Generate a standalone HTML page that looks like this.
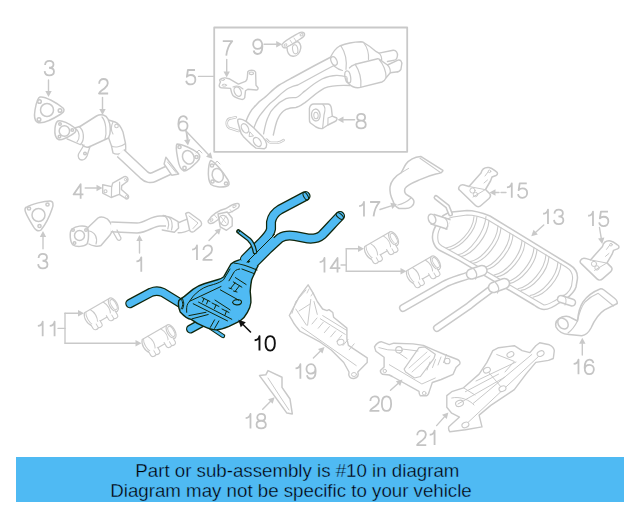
<!DOCTYPE html>
<html><head><meta charset="utf-8"><style>
html,body{margin:0;padding:0;background:#fff;width:640px;height:512px;overflow:hidden}
#banner{position:absolute;left:16px;top:457px;width:608px;height:45px;background:#4fbaf3}
.bt{position:absolute;font-family:"Liberation Sans",sans-serif;font-size:18.7px;color:#000;white-space:pre;line-height:20px;-webkit-text-stroke:0.35px #4fbaf3}
svg{position:absolute;left:0;top:0;filter:blur(0.3px)}
</style></head><body>
<svg width="640" height="512" viewBox="0 0 640 512" stroke-linecap="round" stroke-linejoin="round">
<rect x="214.2" y="27.5" width="193" height="124.3" fill="none" stroke="#c9c9c9" stroke-width="1.8"/>
<path d="M198.5,76.4 L214,76.4" fill="none" stroke="#c9c9c9" stroke-width="1.4" />
<path d="M40,97 C45,96 57,103 63,108 C65,110 64,112 61,114 C53,119 42,125 37,122 C34,120 34,116 35,110 C36,104 37,98 40,97 Z" fill="none" stroke="#c9c9c9" stroke-width="1.5" />
<circle cx="47" cy="110" r="6.5" fill="none" stroke="#c9c9c9" stroke-width="1.5"/>
<circle cx="39.5" cy="101.5" r="1.8" fill="none" stroke="#c9c9c9" stroke-width="1.5"/>
<circle cx="60" cy="110.5" r="1.8" fill="none" stroke="#c9c9c9" stroke-width="1.5"/>
<circle cx="39" cy="119.5" r="1.8" fill="none" stroke="#c9c9c9" stroke-width="1.5"/>
<path d="M48.5,80 L48.5,91.0" stroke="#c9c9c9" stroke-width="1.4" fill="none"/>
<path d="M48.5,97 L45.3,91.0 L51.7,91.0 Z" fill="#c9c9c9" stroke="none"/>
<path d="M58,121 C61,119.5 70,124 75,128 C77,130 76,132 73,134 C68,137 62,141 58.5,139.5 C55,138 54.5,133 55,128 C55.5,124 56,122 58,121 Z" fill="none" stroke="#c9c9c9" stroke-width="1.5" />
<circle cx="64.4" cy="131" r="5.2" fill="none" stroke="#c9c9c9" stroke-width="1.5"/>
<circle cx="60" cy="124" r="1.3" fill="none" stroke="#c9c9c9" stroke-width="1.5"/>
<circle cx="72.3" cy="130" r="1.3" fill="none" stroke="#c9c9c9" stroke-width="1.5"/>
<circle cx="59.5" cy="136.6" r="1.3" fill="none" stroke="#c9c9c9" stroke-width="1.5"/>
<path d="M74.5,128 L80,126.5 M67,138.8 L80,144.5" fill="none" stroke="#c9c9c9" stroke-width="1.3" />
<path d="M79,126.5 C84,130 85,140 80.5,144.5" fill="none" stroke="#c9c9c9" stroke-width="1.3" />
<path d="M76,129 C80,132 80,139 77,142" fill="none" stroke="#c9c9c9" stroke-width="1.1" />
<path d="M80,126.5 L96.5,116 C101,113.5 106,115 108,119 C111,125 111,133 108.5,138 L90,146.5 C87,148 84,147 82,144.5" fill="none" stroke="#c9c9c9" stroke-width="1.5" />
<path d="M102,117 C106,121 107,133 105,139" fill="none" stroke="#c9c9c9" stroke-width="1.2" />
<path d="M84,145 L78.5,154 C77.5,157 79,160 82,160 C85,160 86,158 87,156 L90,146.5" fill="none" stroke="#c9c9c9" stroke-width="1.3" />
<circle cx="85" cy="153.5" r="1.3" fill="none" stroke="#c9c9c9" stroke-width="1.5"/>
<path d="M108.5,120 L115,122 C118,123 121,127 123,132 L125.5,143.5 C126,149 126,151 125,152 C122,154 116,155 113,153 L111.5,146 L108.5,137.5" fill="none" stroke="#c9c9c9" stroke-width="1.4" />
<path d="M113,122 C111,126 111,131 113,134" fill="none" stroke="#c9c9c9" stroke-width="1.1" />
<circle cx="116.5" cy="126" r="1.8" fill="none" stroke="#c9c9c9" stroke-width="1.1"/>
<path d="M111.5,146 C115,148 121,147 125.5,143.5" fill="none" stroke="#c9c9c9" stroke-width="1.1" />
<path d="M120.5,153 L144,175 C147,178 151,178.5 154,177 L169,170" fill="none" stroke="#c9c9c9" stroke-width="11.0" stroke-linecap="butt" stroke-linejoin="round"/>
<path d="M120.5,153 L144,175 C147,178 151,178.5 154,177 L169,170" fill="none" stroke="#fff" stroke-width="8.0" stroke-linecap="butt" stroke-linejoin="round"/>
<path d="M165.9,157.3 L178.7,174 L171.7,175.2 L164.1,164 Z" fill="#fff" stroke="#c9c9c9" stroke-width="1.4" />
<path d="M167.5,162 L176,172.5" fill="none" stroke="#c9c9c9" stroke-width="1" />
<path d="M102.5,97.5 L102.5,109.0" stroke="#c9c9c9" stroke-width="1.4" fill="none"/>
<path d="M102.5,115 L99.3,109.0 L105.7,109.0 Z" fill="#c9c9c9" stroke="none"/>
<path d="M177,144 C182,144 193,149 198,153 C201,156 200,159 197,162 C193,166 188,171 184,171 C181,170 179,166 178,160 C177,154 175,146 177,144 Z" fill="none" stroke="#c9c9c9" stroke-width="1.5" />
<ellipse cx="188.3" cy="157.3" rx="5.6" ry="7" transform="rotate(-25 188.3 157.3)" fill="none" stroke="#c9c9c9" stroke-width="1.5"/>
<circle cx="179.5" cy="147" r="1.6" fill="none" stroke="#c9c9c9" stroke-width="1.5"/>
<circle cx="196.5" cy="157" r="1.6" fill="none" stroke="#c9c9c9" stroke-width="1.5"/>
<circle cx="184.5" cy="168" r="1.7" fill="none" stroke="#c9c9c9" stroke-width="1.5"/>
<path d="M196,153 L199,150 L202,153" fill="none" stroke="#c9c9c9" stroke-width="1" />
<path d="M211,160.5 C215,162 223,172 228,180 C230,183.5 229.5,186 226,186.5 C221,187.5 214,187 211,184.5 C209,182 208,176 208.5,169 C209,164 209.5,161 211,160.5 Z" fill="none" stroke="#c9c9c9" stroke-width="1.5" />
<ellipse cx="217.8" cy="175.3" rx="5.4" ry="7" transform="rotate(-20 217.8 175.3)" fill="none" stroke="#c9c9c9" stroke-width="1.5"/>
<circle cx="212" cy="165.5" r="1.6" fill="none" stroke="#c9c9c9" stroke-width="1.5"/>
<circle cx="226" cy="183.5" r="1.6" fill="none" stroke="#c9c9c9" stroke-width="1.5"/>
<circle cx="212.5" cy="181.5" r="1.6" fill="none" stroke="#c9c9c9" stroke-width="1.5"/>
<path d="M214,165 L217,161 L220,164" fill="none" stroke="#c9c9c9" stroke-width="1" />
<path d="M186.2,131.2 L188,139" fill="none" stroke="#c9c9c9" stroke-width="1.4" />
<path d="M186.2,131.2 L187.2506682320272,139.54697539888278" stroke="#c9c9c9" stroke-width="1.4" fill="none"/>
<path d="M188,145.5 L184.07572177809803,139.94661900846828 L190.4256146859564,139.14733178929728 Z" fill="#c9c9c9" stroke="none"/>
<path d="M186.2,131.2 L208.36089016685017,154.456295384223" stroke="#c9c9c9" stroke-width="1.4" fill="none"/>
<path d="M212.5,158.8 L206.04424770510244,156.6638206285696 L210.6775326285979,152.24877013987643 Z" fill="#c9c9c9" stroke="none"/>
<path d="M102.7,184.7 L111.75,186.6 L112.7,183.1 L124.25,176.6 C126,176 128,177.5 128,179.4 C128,180.5 127.5,181.5 126.5,182 L121.75,185.6 L121.4,189.4 L128.3,195.6 C129,197 128.5,199 126.8,199 C126,199 125.5,198.5 125,198 L119.25,194.4 L111.1,197.5 L102.7,193.1 Z" fill="none" stroke="#c9c9c9" stroke-width="1.4" />
<path d="M111.6,187 L111.4,197 M119.6,182.2 L119.6,194.4" fill="none" stroke="#c9c9c9" stroke-width="1.2" />
<circle cx="105.5" cy="191.3" r="1.5" fill="none" stroke="#c9c9c9" stroke-width="1.1"/>
<circle cx="125.6" cy="179.6" r="1.2" fill="none" stroke="#c9c9c9" stroke-width="1"/>
<circle cx="126.6" cy="196.6" r="1.2" fill="none" stroke="#c9c9c9" stroke-width="1"/>
<path d="M85.2,188 L96.5,188.0" stroke="#c9c9c9" stroke-width="1.4" fill="none"/>
<path d="M102.5,188 L96.5,191.2 L96.5,184.8 Z" fill="#c9c9c9" stroke="none"/>
<path d="M27,207 C32,204 44,201 50,201 C53,201 54,204 52,209 C50,215 45,225 41,230 C38,232 35,230 33,226 C30,221 25,213 25,210 C25,208 26,207 27,207 Z" fill="none" stroke="#c9c9c9" stroke-width="1.5" />
<circle cx="38.5" cy="215" r="6.5" fill="none" stroke="#c9c9c9" stroke-width="1.5"/>
<circle cx="29" cy="208.5" r="1.6" fill="none" stroke="#c9c9c9" stroke-width="1.5"/>
<circle cx="47.5" cy="204.5" r="1.6" fill="none" stroke="#c9c9c9" stroke-width="1.5"/>
<circle cx="39.5" cy="226" r="1.6" fill="none" stroke="#c9c9c9" stroke-width="1.5"/>
<path d="M43,248.7 L43.0,237.0" stroke="#c9c9c9" stroke-width="1.4" fill="none"/>
<path d="M43,231 L46.2,237.0 L39.8,237.0 Z" fill="#c9c9c9" stroke="none"/>
<path d="M72,229 C76,226 83,225 87,227 C89,229 89,240 87,244 C84,247 76,247 73,245 C70,242 69,232 72,229 Z" fill="none" stroke="#c9c9c9" stroke-width="1.5" />
<circle cx="79.5" cy="235.5" r="5" fill="none" stroke="#c9c9c9" stroke-width="1.5"/>
<circle cx="74.5" cy="243" r="1.3" fill="none" stroke="#c9c9c9" stroke-width="1.5"/>
<circle cx="86" cy="230" r="1.3" fill="none" stroke="#c9c9c9" stroke-width="1.5"/>
<circle cx="73" cy="230" r="1.3" fill="none" stroke="#c9c9c9" stroke-width="1.5"/>
<path d="M88,227.5 L98,218 C101,216 107,217 110,222 C113,226 113,231 110,235 L101,245.5 C98,247 92,246 89,244" fill="none" stroke="#c9c9c9" stroke-width="1.5" />
<path d="M89,231 C95,232 98,238 96,244" fill="none" stroke="#c9c9c9" stroke-width="1.2" />
<path d="M111,226.8 L137,228 C146,228 152,221 160,221 L166,221" fill="none" stroke="#c9c9c9" stroke-width="11.3" stroke-linecap="butt" stroke-linejoin="round"/>
<path d="M111,226.8 L137,228 C146,228 152,221 160,221 L166,221" fill="none" stroke="#fff" stroke-width="8.3" stroke-linecap="butt" stroke-linejoin="round"/>
<path d="M112.5,231 L117,239 C118,241 121,241 121,238 L117,230" fill="none" stroke="#c9c9c9" stroke-width="1.3" />
<path d="M164,215.5 C168,218 170,224 167.8,229 M168.7,216.9 C172,219 173,226 171.5,230" fill="none" stroke="#c9c9c9" stroke-width="1.2" />
<path d="M163,215.5 L171.6,217.8 L178.1,221.6 L178.6,228.1 L174.4,232.3 L162.2,230" fill="none" stroke="#c9c9c9" stroke-width="1.4" />
<path d="M179,222.5 C182,221 185,220 187.5,218.8 M178.1,232.8 C182,233 186,232 191.2,229" fill="none" stroke="#c9c9c9" stroke-width="1.4" />
<path d="M185.6,213.6 C187,212.5 188.5,212.3 189.4,212.7 L200,220.5 C202,222.5 202,225 200.6,226 L194,231.5 C192.5,232.5 191,232 190,231 C188.5,227 188,220 185.6,213.6 Z" fill="#fff" stroke="#c9c9c9" stroke-width="1.4" />
<path d="M189,216 L198,223 L193,228.5" fill="none" stroke="#c9c9c9" stroke-width="1" />
<path d="M139.5,253 L139.5,241.0" stroke="#c9c9c9" stroke-width="1.4" fill="none"/>
<path d="M139.5,235 L142.7,241.0 L136.3,241.0 Z" fill="#c9c9c9" stroke="none"/>
<path d="M208,221 C211,215 219,210 226,208.5 C230,206 234,203 238,203.5 C240,204 239.5,206.5 238,208 C234,211 229,213 226,214 L214,222.5 C211,224 208,224 208,221 Z" fill="none" stroke="#c9c9c9" stroke-width="1.4" />
<path d="M218,214 L227.2,212 L232.2,218.3 L232.2,226 L226.5,230.3 L220.2,226.8 Z" fill="#fff" stroke="#c9c9c9" stroke-width="1.4" />
<ellipse cx="223.8" cy="220.5" rx="4.2" ry="5.5" transform="rotate(-30 223.8 220.5)" fill="none" stroke="#c9c9c9" stroke-width="1.2"/>
<path d="M221,217 L226,223 M226,216 L221,224" fill="none" stroke="#c9c9c9" stroke-width="0.9" />
<ellipse cx="211.5" cy="220" rx="1.6" ry="1" transform="rotate(-35 211.5 220)" fill="none" stroke="#c9c9c9" stroke-width="1"/>
<ellipse cx="234.5" cy="206.3" rx="1.8" ry="1" transform="rotate(-30 234.5 206.3)" fill="none" stroke="#c9c9c9" stroke-width="1"/>
<path d="M214,214.5 L217,218 M230,209.5 L232,212" fill="none" stroke="#c9c9c9" stroke-width="0.9" />
<path d="M209,240.5 L216.79256614329867,232.57755775431303" stroke="#c9c9c9" stroke-width="1.4" fill="none"/>
<path d="M221,228.3 L219.07393027893227,234.82152247788707 L214.51120200766508,230.333593030739 Z" fill="#c9c9c9" stroke="none"/>
<path d="M220,79.5 C221.5,78 223.5,77.8 225.2,77.9 L229,78.7 L238.4,84.1 L245.5,81.4 C247,80 247.4,78.5 247.4,76.7 L247.8,71.6 C248.5,70.6 250,70.3 251.7,70.3 C253.5,70.3 255,71 255.6,72 L256,85.3 L258,87.7 C258.3,89 257.5,90 256.4,90 L247.8,89.2 L245.5,90.8 L244.7,97.8 C244,99.3 243,99.6 241.6,99.4 C238,98.5 235,97.5 233,95.5 C231.5,93.5 231,90.5 230.6,88.4 L221.25,87.7 C219.5,87.5 219,86 219.3,84.9 C219.6,83.5 220.5,82.5 220.5,81.8 C219.8,81 219.5,80.2 220,79.5 Z" fill="none" stroke="#c9c9c9" stroke-width="1.4" />
<ellipse cx="237.7" cy="91.6" rx="3.3" ry="5" transform="rotate(-25 237.7 91.6)" fill="none" stroke="#c9c9c9" stroke-width="1.3"/>
<ellipse cx="251.4" cy="73.3" rx="2.2" ry="1.3" transform="rotate(0 251.4 73.3)" fill="none" stroke="#c9c9c9" stroke-width="1.1"/>
<ellipse cx="222.8" cy="79.6" rx="1.8" ry="0.9" transform="rotate(0 222.8 79.6)" fill="none" stroke="#c9c9c9" stroke-width="1"/>
<ellipse cx="224.3" cy="85.2" rx="2.3" ry="1" transform="rotate(0 224.3 85.2)" fill="none" stroke="#c9c9c9" stroke-width="1"/>
<path d="M233,87 C236,85.5 240,86 243,89" fill="none" stroke="#c9c9c9" stroke-width="1.1" />
<path d="M226.7,59.5 L226.7,71.5" stroke="#c9c9c9" stroke-width="1.4" fill="none"/>
<path d="M226.7,77.5 L223.5,71.5 L229.89999999999998,71.5 Z" fill="#c9c9c9" stroke="none"/>
<path d="M282,44.5 C284,41 292,37 299,33 C302,31.5 305,32 304.5,35 C304,37.5 300,39 297,41 L287,47.5 C284,48.5 281.5,47 282,44.5 Z" fill="none" stroke="#c9c9c9" stroke-width="1.4" />
<path d="M287,47 C287,52 289,56 293,56.3 C297,56.5 300,53 300.8,48 C301,45 299.5,42 297.5,41.5 Z" fill="#fff" stroke="#c9c9c9" stroke-width="1.4" />
<ellipse cx="295.2" cy="49.3" rx="2.6" ry="4.6" transform="rotate(-10 295.2 49.3)" fill="none" stroke="#c9c9c9" stroke-width="1.1"/>
<ellipse cx="285.5" cy="45" rx="1.5" ry="1" transform="rotate(-30 285.5 45)" fill="none" stroke="#c9c9c9" stroke-width="1"/>
<ellipse cx="301.5" cy="34.8" rx="1.5" ry="1" transform="rotate(-30 301.5 34.8)" fill="none" stroke="#c9c9c9" stroke-width="1"/>
<path d="M290,40 L292,43 M294,38 L296,41" fill="none" stroke="#c9c9c9" stroke-width="0.9" />
<path d="M264,44.3 L276.2,44.3" stroke="#c9c9c9" stroke-width="1.4" fill="none"/>
<path d="M282.2,44.3 L276.2,47.5 L276.2,41.099999999999994 Z" fill="#c9c9c9" stroke="none"/>
<path d="M246,121.2 C248,116 250,111 253.8,107.5 C257,103.5 260,100.5 264.5,97.7 C269,94 273,89 279.2,85 C284,82 288,80 292.7,77.5 L313.8,66 L330,57.5" fill="none" stroke="#c9c9c9" stroke-width="1.5" />
<path d="M253.8,128 C256,122 258,117 261.6,113.3 C265,109 268,105 272.4,101.6 C278,97 283,91 289,88 C292,86.5 295,85.5 297.8,85 L324.4,70.5 L334,65.5" fill="none" stroke="#c9c9c9" stroke-width="1.3" />
<path d="M263.6,133.9 C265,126 266,121 268.5,116.3 C270,112.5 272,109.5 274.3,107.5 C278,103.5 282,100.5 286,98.7 C289,97.5 292.5,97.5 295.8,97.7 C299,97 302,93 305,90.9 C311,86 316,82 322,79 C330,75 338,74 347,77" fill="none" stroke="#c9c9c9" stroke-width="1.3" />
<path d="M273.3,135 C275,128 276,122 278.2,118.2 C280,114 283,111 286,109.4 C289,108 292,107.5 295.8,107.5 C299,107 302,104.5 305,102.6 C311,98 317,92 324.4,88.1 C332,85 340,85 350,85.5" fill="none" stroke="#c9c9c9" stroke-width="1.4" />
<path d="M238,119.4 C240,118.5 243,119.5 246.4,121.6 L253.9,128 L262.4,136.4 C264.5,139 266,141.5 266.6,143.9 C266.8,146 266,148 264.5,148.7 L256,148.1 C253,146 250.5,144 248.6,141.8 L243.25,136.4 C241.5,134.5 240.5,132.5 240,130 L238,122.6 C237.6,121 237.6,120 238,119.4 Z" fill="#fff" stroke="#c9c9c9" stroke-width="1.4" />
<ellipse cx="245" cy="128.3" rx="3.2" ry="5" transform="rotate(-30 245 128.3)" fill="none" stroke="#c9c9c9" stroke-width="1.3"/>
<ellipse cx="257.3" cy="142" rx="3.3" ry="5" transform="rotate(-35 257.3 142)" fill="none" stroke="#c9c9c9" stroke-width="1.3"/>
<path d="M250,132 L253.5,136 L249.5,136.5 Z" fill="none" stroke="#c9c9c9" stroke-width="1" />
<path d="M238.5,131 L229.4,128 C227.5,127 226.5,124.5 226.8,122 C227.5,119.5 229,118.5 230.5,118.4 L235.8,117.3" fill="none" stroke="#c9c9c9" stroke-width="2.6" />
<path d="M238.5,131 L229.4,128 C227.5,127 226.5,124.5 226.8,122 C227.5,119.5 229,118.5 230.5,118.4 L235.8,117.3" fill="none" stroke="#fff" stroke-width="1" />
<path d="M266.6,139.6 C268,141.5 269.5,142.8 271,142.8 L277.3,142.8 C279.5,142.5 281.5,141.5 283.6,140.2" fill="none" stroke="#c9c9c9" stroke-width="2.6" />
<path d="M266.6,139.6 C268,141.5 269.5,142.8 271,142.8 L277.3,142.8 C279.5,142.5 281.5,141.5 283.6,140.2" fill="none" stroke="#fff" stroke-width="1" />
<path d="M330.5,57.3 C333,52 336,48 339.7,46 C346,43.5 353,42 360.8,41.8 C362,41.8 363,42 363.6,42.5 C368,45 372,48 376.3,51.7 L379,53.1 L393.1,50.3 C396,50 398,53 397.4,56 C397,58.5 396,60 394.5,60.1 L387.5,61.5" fill="none" stroke="#c9c9c9" stroke-width="1.4" />
<ellipse cx="334" cy="61" rx="2.8" ry="4.6" transform="rotate(-25 334 61)" fill="none" stroke="#c9c9c9" stroke-width="1.3"/>
<path d="M341,46 C345,52 347,61 346,69.3 M363.6,42.5 C367,47 369,53 368.5,59.4 M379,53.1 C381,55 382,58 381.5,61" fill="none" stroke="#c9c9c9" stroke-width="1.2" />
<path d="M334,66 C337,68.5 339.5,70 342.5,70.5" fill="none" stroke="#c9c9c9" stroke-width="1.2" />
<path d="M349.5,67.9 C351,66 353,65 355.2,64.3 L377.7,58.7 C378.7,58.5 379.7,59.3 380.5,60.1 L387.5,65 L398,60.1 C400.5,59.5 402.5,62 401.6,65 L400.9,69.3 C400,71 398,72 396,72 L390.3,72.8 L386.1,77.7 C385,80 383.5,81.5 381.9,82 L359.4,87.6 C356,88 352,87 349,84 C347,82 346.5,80 347,78" fill="#fff" stroke="#c9c9c9" stroke-width="1.4" />
<ellipse cx="347.8" cy="77" rx="2.8" ry="6.2" transform="rotate(-10 347.8 77)" fill="none" stroke="#c9c9c9" stroke-width="1.3"/>
<path d="M355.2,64.3 C359,70 361.5,79 360.8,86.9 M379,59.4 C383,64 386,70 386.1,77.7 M387.5,65 C389.5,67 390.5,70 390.3,72.8" fill="none" stroke="#c9c9c9" stroke-width="1.2" />
<path d="M309.4,108.3 C310,105.5 311.5,104 313.8,104 L327.9,104 C329.5,104 331,106 331.4,108.3 L332.3,116.2 L336.7,118 C337.5,119 336.5,120.8 335,121.5 L327.9,125 L322.6,128.5 C320,129 318,128 316,127 L310.5,123 C309.5,122 309.2,121 309.4,119 Z" fill="none" stroke="#c9c9c9" stroke-width="1.4" />
<path d="M322.8,104.5 C325,106 325.5,110 324,115 L322.6,128.5" fill="none" stroke="#c9c9c9" stroke-width="1.2" />
<ellipse cx="315.8" cy="115" rx="4.3" ry="6" transform="rotate(-5 315.8 115)" fill="none" stroke="#c9c9c9" stroke-width="1.3"/>
<ellipse cx="316" cy="115.5" rx="2.2" ry="3.3" transform="rotate(-5 316 115.5)" fill="none" stroke="#c9c9c9" stroke-width="1"/>
<path d="M332.3,116.2 L328,118 L327.9,125" fill="none" stroke="#c9c9c9" stroke-width="1.1" />
<path d="M354.6,119.8 L343.5,119.8" stroke="#c9c9c9" stroke-width="1.4" fill="none"/>
<path d="M337.5,119.8 L343.5,116.6 L343.5,123.0 Z" fill="#c9c9c9" stroke="none"/>
<path d="M420.7,156.4 L442.9,170.3 C443,172 440,173.5 435.9,174.1 C428,176 423,178.5 418,180.5 C412,183 407,185 405,188.5 C404,191.5 405,194 408,195.5 C411,197 414,199 414,202 C414,206 410,208.5 405.4,208.5 L399,208.5 C396,207 394,205 393,201 C391,197 389.5,192 390,187 C390.5,182 395,176 401,172.9 C403,170 404,167 406,164 C409,160 414,157 420.7,156.4 Z" fill="none" stroke="#c9c9c9" stroke-width="1.5" />
<path d="M420,158.3 L441,172.9" fill="none" stroke="#c9c9c9" stroke-width="1.1" />
<path d="M397.8,205 C402,204 408,201 411,198" fill="none" stroke="#c9c9c9" stroke-width="1.1" />
<path d="M401,172.9 L408.6,168.4" fill="none" stroke="#c9c9c9" stroke-width="1" />
<path d="M380,209.5 L391.29133288867354,205.84692171248798" stroke="#c9c9c9" stroke-width="1.4" fill="none"/>
<path d="M397,204 L392.27635780200046,208.8915441718621 L390.3063079753466,202.80229925311386 Z" fill="#c9c9c9" stroke="none"/>
<g transform="translate(0,0)">
<path d="M459,187 C460,185 462,184.5 464,185 L469,186.5 L481,173 C482,169 485,167 489,167.5 C492,168 494,170 496,171.5 C498,172.5 498,174.5 496,175.5 L492,177 L490.5,181 L485.5,189.5 L490,194 C491,195.5 490.5,197 489,198.5 L481,205.5 C479.5,207 477,207 475.5,205.5 L460,190.5 C458.5,189.5 458.5,188 459,187 Z" fill="none" stroke="#c9c9c9" stroke-width="1.5" />
<path d="M469,186.5 L484.5,189.5 M473,197 L485.5,189.5" fill="none" stroke="#c9c9c9" stroke-width="1" />
<circle cx="472.5" cy="190.5" r="2.6" fill="none" stroke="#c9c9c9" stroke-width="1"/>
<circle cx="475.5" cy="194.5" r="2.2" fill="none" stroke="#c9c9c9" stroke-width="1"/>
<path d="M484,183 L487.5,180 M485,176 L488,172" fill="none" stroke="#c9c9c9" stroke-width="1" />
<circle cx="489.5" cy="171.3" r="1.3" fill="none" stroke="#c9c9c9" stroke-width="1"/>
</g>
<path d="M499,192.5 L495.5,192.5" stroke="#c9c9c9" stroke-width="1.4" fill="none"/>
<path d="M489.5,192.5 L495.5,189.3 L495.5,195.7 Z" fill="#c9c9c9" stroke="none"/>
<path d="M501,192.5 L506,192.5" fill="none" stroke="#c9c9c9" stroke-width="1.4" />
<g transform="translate(121.5,73.4)">
<path d="M459,187 C460,185 462,184.5 464,185 L469,186.5 L481,173 C482,169 485,167 489,167.5 C492,168 494,170 496,171.5 C498,172.5 498,174.5 496,175.5 L492,177 L490.5,181 L485.5,189.5 L490,194 C491,195.5 490.5,197 489,198.5 L481,205.5 C479.5,207 477,207 475.5,205.5 L460,190.5 C458.5,189.5 458.5,188 459,187 Z" fill="none" stroke="#c9c9c9" stroke-width="1.5" />
<path d="M469,186.5 L484.5,189.5 M473,197 L485.5,189.5" fill="none" stroke="#c9c9c9" stroke-width="1" />
<circle cx="472.5" cy="190.5" r="2.6" fill="none" stroke="#c9c9c9" stroke-width="1"/>
<circle cx="475.5" cy="194.5" r="2.2" fill="none" stroke="#c9c9c9" stroke-width="1"/>
<path d="M484,183 L487.5,180 M485,176 L488,172" fill="none" stroke="#c9c9c9" stroke-width="1" />
<circle cx="489.5" cy="171.3" r="1.3" fill="none" stroke="#c9c9c9" stroke-width="1"/>
</g>
<path d="M599.5,227.5 L601.2310685913368,238.0787525026135" stroke="#c9c9c9" stroke-width="1.4" fill="none"/>
<path d="M602.2,244 L598.073069926064,238.59551592056724 L604.3890672566096,237.56198908465976 Z" fill="#c9c9c9" stroke="none"/>
<path d="M433,241 C431,234 434,228 438,222 C441,216 446,213 452,212 L467,210.5 C474,210.5 480,212 490,216 L570,265 C575,268 578,273 577.4,279 L576,287 C574,293 566,300 559,303 C555,306 550,309.5 544,309.5 C540,309.5 537,307 534,305 L459,260.3 L439,250 C436,248 434,245 433,241 Z" fill="none" stroke="#c9c9c9" stroke-width="1.5" />
<path d="M438,240 C437,234 439,229 442,225 C445,220 448,218 453,217 L467,215 C474,215 479,216 488,220 L566,267 C571,270 573,274 572.5,279 L571.5,286 C570,292 563,297 556,300 C552,302 548,305 544,305 L460,256 L442,246 C439,244 438,242 438,240 Z" fill="none" stroke="#c9c9c9" stroke-width="1.1" />
<path d="M474.0,216.5 C473.0,231.5 458.0,246.0 446.0,248.0" fill="none" stroke="#c9c9c9" stroke-width="1.1" />
<path d="M477.0,216.5 C476.0,231.5 461.0,247.7 449.0,249.7" fill="none" stroke="#c9c9c9" stroke-width="1.1" />
<path d="M486.0,216.5 C485.0,231.5 470.0,252.8 458.0,254.8" fill="none" stroke="#c9c9c9" stroke-width="1.1" />
<path d="M489.0,220.6 C488.0,235.6 473.0,254.5 461.0,256.5" fill="none" stroke="#c9c9c9" stroke-width="1.1" />
<path d="M498.0,226.0 C497.0,241.0 482.0,259.6 470.0,261.6" fill="none" stroke="#c9c9c9" stroke-width="1.1" />
<path d="M501.0,227.8 C500.0,242.8 485.0,261.3 473.0,263.3" fill="none" stroke="#c9c9c9" stroke-width="1.1" />
<path d="M510.0,233.2 C509.0,248.2 494.0,266.3 482.0,268.3" fill="none" stroke="#c9c9c9" stroke-width="1.1" />
<path d="M513.0,235.0 C512.0,250.0 497.0,268.0 485.0,270.0" fill="none" stroke="#c9c9c9" stroke-width="1.1" />
<path d="M522.0,240.4 C521.0,255.4 506.0,273.1 494.0,275.1" fill="none" stroke="#c9c9c9" stroke-width="1.1" />
<path d="M525.0,242.2 C524.0,257.2 509.0,274.8 497.0,276.8" fill="none" stroke="#c9c9c9" stroke-width="1.1" />
<path d="M534.0,247.6 C533.0,262.6 518.0,279.9 506.0,281.9" fill="none" stroke="#c9c9c9" stroke-width="1.1" />
<path d="M537.0,249.4 C536.0,264.4 521.0,281.6 509.0,283.6" fill="none" stroke="#c9c9c9" stroke-width="1.1" />
<path d="M546.0,254.8 C545.0,269.8 530.0,286.7 518.0,288.7" fill="none" stroke="#c9c9c9" stroke-width="1.1" />
<path d="M549.0,256.6 C548.0,271.6 533.0,288.4 521.0,290.4" fill="none" stroke="#c9c9c9" stroke-width="1.1" />
<path d="M558.0,262.0 C557.0,277.0 542.0,293.5 530.0,295.5" fill="none" stroke="#c9c9c9" stroke-width="1.1" />
<path d="M561.0,263.8 C560.0,278.8 545.0,295.2 533.0,297.2" fill="none" stroke="#c9c9c9" stroke-width="1.1" />
<path d="M432,219 L449,224.5" fill="none" stroke="#c9c9c9" stroke-width="11.5" stroke-linecap="butt" stroke-linejoin="round"/>
<path d="M432,219 L449,224.5" fill="none" stroke="#fff" stroke-width="8.5" stroke-linecap="butt" stroke-linejoin="round"/>
<ellipse cx="432" cy="219" rx="3.6" ry="5" transform="rotate(-20 432 219)" fill="#fff" stroke="#c9c9c9" stroke-width="1.5"/>
<path d="M445,218 C448,221 449,226 446,229" fill="none" stroke="#c9c9c9" stroke-width="1.2" />
<path d="M436,197.5 L447.5,206.5 L450.5,214" fill="none" stroke="#c9c9c9" stroke-width="5.0" stroke-linecap="round" stroke-linejoin="round"/>
<path d="M436,197.5 L447.5,206.5 L450.5,214" fill="none" stroke="#fff" stroke-width="2.0" stroke-linecap="round" stroke-linejoin="round"/>
<path d="M561,299 L572,302.5" fill="none" stroke="#c9c9c9" stroke-width="8.5" stroke-linecap="round" stroke-linejoin="round"/>
<path d="M561,299 L572,302.5" fill="none" stroke="#fff" stroke-width="5.5" stroke-linecap="round" stroke-linejoin="round"/>
<path d="M563,295 C566,297 567,301 565,305" fill="none" stroke="#c9c9c9" stroke-width="1.1" />
<path d="M543.75,225 L535.709764877483,232.23621161026531" stroke="#c9c9c9" stroke-width="1.4" fill="none"/>
<path d="M531.25,236.25 L533.5690777362912,229.8576703422744 L537.8504520186749,234.61475287825624 Z" fill="#c9c9c9" stroke="none"/>
<path d="M468,275.5 C458,279 450,281 444,284.5 L403,308" fill="none" stroke="#c9c9c9" stroke-width="8.1" stroke-linecap="round" stroke-linejoin="round"/>
<path d="M468,275.5 C458,279 450,281 444,284.5 L403,308" fill="none" stroke="#fff" stroke-width="5.1" stroke-linecap="round" stroke-linejoin="round"/>
<path d="M490,290 C482,296 476,300 469,306 L437,328" fill="none" stroke="#c9c9c9" stroke-width="8.1" stroke-linecap="round" stroke-linejoin="round"/>
<path d="M490,290 C482,296 476,300 469,306 L437,328" fill="none" stroke="#fff" stroke-width="5.1" stroke-linecap="round" stroke-linejoin="round"/>
<path d="M471.5,274 L482,270.5" fill="none" stroke="#c9c9c9" stroke-width="11.5" stroke-linecap="round" stroke-linejoin="round"/>
<path d="M471.5,274 L482,270.5" fill="none" stroke="#fff" stroke-width="8.5" stroke-linecap="round" stroke-linejoin="round"/>
<path d="M473.5,268.5 C476.5,271.5 477.5,275.5 475.5,279" fill="none" stroke="#c9c9c9" stroke-width="1.2" />
<path d="M493.5,287.5 L504.5,283.5" fill="none" stroke="#c9c9c9" stroke-width="11.5" stroke-linecap="round" stroke-linejoin="round"/>
<path d="M493.5,287.5 L504.5,283.5" fill="none" stroke="#fff" stroke-width="8.5" stroke-linecap="round" stroke-linejoin="round"/>
<path d="M495.5,282.5 C498.5,285.5 499.5,289.5 497.5,293" fill="none" stroke="#c9c9c9" stroke-width="1.2" />
<path d="M600,289 C595,291 587,296 583,302 C579,308 578,315 577.5,321 L571.5,318 C569,316 565,316 562,317 C557,319 555,323 556,327 C558,331 563,334 569,334.6 L581.7,335.8 C586,335 589,332 591,328 C594,321 598,314 604.6,309.8 L617.3,303.5 C617.5,301 616,299 613,297 L604,290 C602.5,289 601,288.5 600,289 Z" fill="none" stroke="#c9c9c9" stroke-width="1.5" />
<path d="M577.5,321 C579,314 581,307 585,302 C589,298 594,295 598.2,293.3 L613.5,306" fill="none" stroke="#c9c9c9" stroke-width="1.1" />
<ellipse cx="563" cy="323.5" rx="4.6" ry="6" transform="rotate(-40 563 323.5)" fill="#fff" stroke="#c9c9c9" stroke-width="1.5"/>
<path d="M568,333 C572,330 575,326 577.5,321" fill="none" stroke="#c9c9c9" stroke-width="1.1" />
<path d="M582.3,355 L582.3,343.8" stroke="#c9c9c9" stroke-width="1.4" fill="none"/>
<path d="M582.3,337.8 L585.5,343.8 L579.0999999999999,343.8 Z" fill="#c9c9c9" stroke="none"/>
<g transform="translate(381,245.8) rotate(-30)">
<path d="M-14.5,-7.5 L14.5,-7.5 M-14.5,7.5 L14.5,7.5 M-14.5,-7.5 C-18,-4 -18,4 -14.5,7.5" fill="none" stroke="#c9c9c9" stroke-width="1.2" />
<path d="M-13,-7.3 C-15.5,-4 -15.5,4 -13,7.3" fill="none" stroke="#c9c9c9" stroke-width="0.9" />
<ellipse cx="14.5" cy="0" rx="3.8" ry="7.6" transform="rotate(0 14.5 0)" fill="#fff" stroke="#c9c9c9" stroke-width="1.2"/>
<ellipse cx="14.8" cy="0" rx="2.4" ry="5.6" transform="rotate(0 14.8 0)" fill="none" stroke="#c9c9c9" stroke-width="0.9"/>
<path d="M-8,-7.5 C-5.5,-3 -5.5,3 -8,7.5 M7,-7.5 C9.5,-3 9.5,3 7,7.5" fill="none" stroke="#c9c9c9" stroke-width="1" />
<path d="M-15,6 L-15,10.5 C-15,13 -12,13.5 -10,12.5 C-8,13.5 -5,13.5 -5,11 L-5,7" fill="#fff" stroke="#c9c9c9" stroke-width="1.1" />
<path d="M3,6 L3,10.5 C3,13 6,13.5 8,12.5 C10,13.5 13,13.5 13,11 L13,6" fill="#fff" stroke="#c9c9c9" stroke-width="1.1" />
<path d="M-10,8 L-10,12.5 M8,8 L8,12.5" fill="none" stroke="#c9c9c9" stroke-width="0.9" />
</g>
<g transform="translate(423,270) rotate(-30)">
<path d="M-14.5,-7.5 L14.5,-7.5 M-14.5,7.5 L14.5,7.5 M-14.5,-7.5 C-18,-4 -18,4 -14.5,7.5" fill="none" stroke="#c9c9c9" stroke-width="1.2" />
<path d="M-13,-7.3 C-15.5,-4 -15.5,4 -13,7.3" fill="none" stroke="#c9c9c9" stroke-width="0.9" />
<ellipse cx="14.5" cy="0" rx="3.8" ry="7.6" transform="rotate(0 14.5 0)" fill="#fff" stroke="#c9c9c9" stroke-width="1.2"/>
<ellipse cx="14.8" cy="0" rx="2.4" ry="5.6" transform="rotate(0 14.8 0)" fill="none" stroke="#c9c9c9" stroke-width="0.9"/>
<path d="M-8,-7.5 C-5.5,-3 -5.5,3 -8,7.5 M7,-7.5 C9.5,-3 9.5,3 7,7.5" fill="none" stroke="#c9c9c9" stroke-width="1" />
<path d="M-15,6 L-15,10.5 C-15,13 -12,13.5 -10,12.5 C-8,13.5 -5,13.5 -5,11 L-5,7" fill="#fff" stroke="#c9c9c9" stroke-width="1.1" />
<path d="M3,6 L3,10.5 C3,13 6,13.5 8,12.5 C10,13.5 13,13.5 13,11 L13,6" fill="#fff" stroke="#c9c9c9" stroke-width="1.1" />
<path d="M-10,8 L-10,12.5 M8,8 L8,12.5" fill="none" stroke="#c9c9c9" stroke-width="0.9" />
</g>
<path d="M341,265 L346.25,265" fill="none" stroke="#c9c9c9" stroke-width="1.4" />
<path d="M346.25,248.75 L346.25,271.25" fill="none" stroke="#c9c9c9" stroke-width="1.4" />
<path d="M346.25,248.75 L358.0,248.75" stroke="#c9c9c9" stroke-width="1.4" fill="none"/>
<path d="M364,248.75 L358.0,251.95 L358.0,245.55 Z" fill="#c9c9c9" stroke="none"/>
<path d="M346.25,271.25 L400.5,271.25" stroke="#c9c9c9" stroke-width="1.4" fill="none"/>
<path d="M406.5,271.25 L400.5,274.45 L400.5,268.05 Z" fill="#c9c9c9" stroke="none"/>
<g transform="translate(100.8,312) rotate(-30)">
<path d="M-14.5,-7.5 L14.5,-7.5 M-14.5,7.5 L14.5,7.5 M-14.5,-7.5 C-18,-4 -18,4 -14.5,7.5" fill="none" stroke="#c9c9c9" stroke-width="1.2" />
<path d="M-13,-7.3 C-15.5,-4 -15.5,4 -13,7.3" fill="none" stroke="#c9c9c9" stroke-width="0.9" />
<ellipse cx="14.5" cy="0" rx="3.8" ry="7.6" transform="rotate(0 14.5 0)" fill="#fff" stroke="#c9c9c9" stroke-width="1.2"/>
<ellipse cx="14.8" cy="0" rx="2.4" ry="5.6" transform="rotate(0 14.8 0)" fill="none" stroke="#c9c9c9" stroke-width="0.9"/>
<path d="M-8,-7.5 C-5.5,-3 -5.5,3 -8,7.5 M7,-7.5 C9.5,-3 9.5,3 7,7.5" fill="none" stroke="#c9c9c9" stroke-width="1" />
<path d="M-15,6 L-15,10.5 C-15,13 -12,13.5 -10,12.5 C-8,13.5 -5,13.5 -5,11 L-5,7" fill="#fff" stroke="#c9c9c9" stroke-width="1.1" />
<path d="M3,6 L3,10.5 C3,13 6,13.5 8,12.5 C10,13.5 13,13.5 13,11 L13,6" fill="#fff" stroke="#c9c9c9" stroke-width="1.1" />
<path d="M-10,8 L-10,12.5 M8,8 L8,12.5" fill="none" stroke="#c9c9c9" stroke-width="0.9" />
</g>
<g transform="translate(158.5,338.8) rotate(-30)">
<path d="M-14.5,-7.5 L14.5,-7.5 M-14.5,7.5 L14.5,7.5 M-14.5,-7.5 C-18,-4 -18,4 -14.5,7.5" fill="none" stroke="#c9c9c9" stroke-width="1.2" />
<path d="M-13,-7.3 C-15.5,-4 -15.5,4 -13,7.3" fill="none" stroke="#c9c9c9" stroke-width="0.9" />
<ellipse cx="14.5" cy="0" rx="3.8" ry="7.6" transform="rotate(0 14.5 0)" fill="#fff" stroke="#c9c9c9" stroke-width="1.2"/>
<ellipse cx="14.8" cy="0" rx="2.4" ry="5.6" transform="rotate(0 14.8 0)" fill="none" stroke="#c9c9c9" stroke-width="0.9"/>
<path d="M-8,-7.5 C-5.5,-3 -5.5,3 -8,7.5 M7,-7.5 C9.5,-3 9.5,3 7,7.5" fill="none" stroke="#c9c9c9" stroke-width="1" />
<path d="M-15,6 L-15,10.5 C-15,13 -12,13.5 -10,12.5 C-8,13.5 -5,13.5 -5,11 L-5,7" fill="#fff" stroke="#c9c9c9" stroke-width="1.1" />
<path d="M3,6 L3,10.5 C3,13 6,13.5 8,12.5 C10,13.5 13,13.5 13,11 L13,6" fill="#fff" stroke="#c9c9c9" stroke-width="1.1" />
<path d="M-10,8 L-10,12.5 M8,8 L8,12.5" fill="none" stroke="#c9c9c9" stroke-width="0.9" />
</g>
<path d="M58,328.4 L65,328.4" fill="none" stroke="#c9c9c9" stroke-width="1.4" />
<path d="M65,313.2 L65,343.3" fill="none" stroke="#c9c9c9" stroke-width="1.4" />
<path d="M65,313.2 L78.0,313.2" stroke="#c9c9c9" stroke-width="1.4" fill="none"/>
<path d="M84,313.2 L78.0,316.4 L78.0,310.0 Z" fill="#c9c9c9" stroke="none"/>
<path d="M65,343.3 L135.5,343.3" stroke="#c9c9c9" stroke-width="1.4" fill="none"/>
<path d="M141.5,343.3 L135.5,346.5 L135.5,340.1 Z" fill="#c9c9c9" stroke="none"/>
<path d="M308.1,284.8 L313,292.9 L317.3,301.5 L322.6,309 L327,310.6 L329,309.6 L332.8,312.5 L333.6,317.2 L346.9,328.1 L346.9,339 L348.4,345.3 L367.2,357.8 L367.2,362.5 L361,368.75 L357.8,371.9 C359,375 358,378 354,378.5 C350,379 348,376 349,372 L343.75,362.5 L331.25,350 L320.3,342.2 L300,331.25 L296.8,327.3 L293.6,323 L292.5,320.9 L289.3,315.5 L299,297.2 Z" fill="none" stroke="#c9c9c9" stroke-width="1.4" />
<path d="M306,290 L295.75,301.5 L292,313.3 M295.75,309 L306.5,325.2 M310.8,299.4 L307.6,325.2 M314,301.5 L317.3,314.4 M301.6,327.3 L356.25,365.6 M320.3,318.75 L345.3,334.4 M322.7,315.6 L346.9,330.5 M299,311 L310,304" fill="none" stroke="#c9c9c9" stroke-width="1" />
<path d="M312.0,324.0 L317.0,318.0" fill="none" stroke="#c9c9c9" stroke-width="1" />
<path d="M318.2,328.3 L323.2,322.3" fill="none" stroke="#c9c9c9" stroke-width="1" />
<path d="M324.4,332.6 L329.4,326.6" fill="none" stroke="#c9c9c9" stroke-width="1" />
<path d="M330.6,336.9 L335.6,330.9" fill="none" stroke="#c9c9c9" stroke-width="1" />
<path d="M336.8,341.2 L341.8,335.2" fill="none" stroke="#c9c9c9" stroke-width="1" />
<path d="M343.0,345.5 L348.0,339.5" fill="none" stroke="#c9c9c9" stroke-width="1" />
<path d="M349.2,349.8 L354.2,343.8" fill="none" stroke="#c9c9c9" stroke-width="1" />
<ellipse cx="340.6" cy="342.2" rx="3.4" ry="2.8" transform="rotate(-20 340.6 342.2)" fill="none" stroke="#c9c9c9" stroke-width="1"/>
<ellipse cx="354" cy="374.5" rx="2.5" ry="2" transform="rotate(0 354 374.5)" fill="none" stroke="#c9c9c9" stroke-width="1"/>
<path d="M307,293 L309,289 M311,296 L313,293" fill="none" stroke="#c9c9c9" stroke-width="0.9" />
<path d="M313.4,357.9 L320.21896675063425,351.20389751514296" stroke="#c9c9c9" stroke-width="1.4" fill="none"/>
<path d="M324.5,347 L322.46104542537716,353.487115248138 L317.97688807589134,348.9206797821479 Z" fill="#c9c9c9" stroke="none"/>
<path d="M259.5,375.6 L265.8,374.8 L268,370.6 L282,377.2 L282,387.3 L290,399 L292.3,413.9 L286.9,413.1 L272.8,393.6 Z" fill="none" stroke="#c9c9c9" stroke-width="1.5" />
<path d="M268,378 L281,398 L289,410" fill="none" stroke="#c9c9c9" stroke-width="1" />
<path d="M262.7,409.2 L270.3751479289941,401.4603550295858" stroke="#c9c9c9" stroke-width="1.4" fill="none"/>
<path d="M274.6,397.2 L272.64733727810653,403.7136094674556 L268.1029585798817,399.20710059171597 Z" fill="#c9c9c9" stroke="none"/>
<path d="M374.5,346.9 C376,344 378.5,342 381.1,341.7 L389.3,344.6 L393.7,343.2 L413,343.9 L423.4,345.4 L435.3,350.6 L445.7,355 L457.5,359.5 C459.5,360.5 460.5,362.5 459.8,363.9 L456,367.6 L453.1,374.3 L441.2,379.5 L432.3,382.5 L429.3,391.4 C428.8,393.5 428,395.5 426.4,395.8 L420.4,395.8 C419.5,394.5 419,393 419,391.4 L392.3,376.5 L389.3,375 L382.6,374.3 C381,373.5 380.3,372 380.4,370.6 L384.1,366.9 L384.1,357.3 L375.9,351.3 Z" fill="none" stroke="#c9c9c9" stroke-width="1.4" />
<path d="M404.1,369.1 L419,347.6 L424.9,346.9 L435.3,354.3 L433.8,358.7 L420.4,376.5 L414.5,378 L405.6,372.1 Z" fill="none" stroke="#c9c9c9" stroke-width="1.2" />
<path d="M378.9,347.6 L387.8,349.8 L402.6,350.6 M389.3,364.7 L421.9,384 L435.3,378 M398.9,353 L407.1,358.7 M402,349 L418,351" fill="none" stroke="#c9c9c9" stroke-width="1" />
<circle cx="398.9" cy="349.8" r="3.2" fill="none" stroke="#c9c9c9" stroke-width="1.1"/>
<circle cx="447.2" cy="361" r="2.8" fill="none" stroke="#c9c9c9" stroke-width="1.1"/>
<circle cx="384.8" cy="371" r="1.7" fill="none" stroke="#c9c9c9" stroke-width="1"/>
<circle cx="424.2" cy="393.2" r="1.8" fill="none" stroke="#c9c9c9" stroke-width="1"/>
<path d="M409,368 L427,352 M412,372 L430,356" fill="none" stroke="#c9c9c9" stroke-width="0.9" />
<path d="M427.0,370.0 L430.0,362.0" fill="none" stroke="#c9c9c9" stroke-width="1" />
<path d="M432.5,367.5 L435.5,359.5" fill="none" stroke="#c9c9c9" stroke-width="1" />
<path d="M438.0,365.0 L441.0,357.0" fill="none" stroke="#c9c9c9" stroke-width="1" />
<path d="M443.5,362.5 L446.5,354.5" fill="none" stroke="#c9c9c9" stroke-width="1" />
<path d="M390.5,390.3 L398.040235122517,383.5137883897347" stroke="#c9c9c9" stroke-width="1.4" fill="none"/>
<path d="M402.5,379.5 L400.18092226370885,385.89232965772567 L395.89954798132516,381.13524712174376 Z" fill="#c9c9c9" stroke="none"/>
<path d="M539.7,342.8 L549.4,344.8 C552,346 554,348 554.3,350.6 L553.3,358.5 L548.5,360.4 L535.8,362.4 L526,374.1 L514.3,389.7 L490.8,405.4 L479.1,415.1 L482,426.85 L465.4,429.8 L449.8,431.7 C448.5,430 448.3,428.5 448.8,426.85 L459.5,417.1 L451.7,413.2 L446.8,407.3 L446.8,395.6 L451.7,391.7 L463.5,387.8 L479.1,374.1 L486.9,362.4 L492.8,350.6 L498.6,347.7 L514.3,345.7 L522.1,350.6 L529.9,352.6 L535.8,345.7 Z" fill="none" stroke="#c9c9c9" stroke-width="1.4" />
<path d="M541.6,353.6 L465.4,424.9 M531.8,354.5 L473.2,403.4 M486.9,370.2 L502.5,388.7 M465.4,391.7 L498.6,374.1 M476,381 L516,362 M458,404 L505,377 M496.7,354.5 L514.3,361.4 L505,372" fill="none" stroke="#c9c9c9" stroke-width="1" />
<path d="M451.7,398 C460,396 470,400 474,405 M463.5,387.8 L475,395" fill="none" stroke="#c9c9c9" stroke-width="1" />
<ellipse cx="540.6" cy="353.6" rx="3.6" ry="2.6" transform="rotate(-25 540.6 353.6)" fill="#fff" stroke="#c9c9c9" stroke-width="1.1"/>
<ellipse cx="502.5" cy="388.7" rx="3.6" ry="2.6" transform="rotate(-25 502.5 388.7)" fill="#fff" stroke="#c9c9c9" stroke-width="1.1"/>
<ellipse cx="486.9" cy="370.2" rx="3.6" ry="2.6" transform="rotate(-25 486.9 370.2)" fill="#fff" stroke="#c9c9c9" stroke-width="1.1"/>
<ellipse cx="465.4" cy="424.9" rx="3.6" ry="2.6" transform="rotate(-25 465.4 424.9)" fill="#fff" stroke="#c9c9c9" stroke-width="1.1"/>
<ellipse cx="510.4" cy="354.5" rx="3.6" ry="2.6" transform="rotate(-25 510.4 354.5)" fill="#fff" stroke="#c9c9c9" stroke-width="1.1"/>
<ellipse cx="459.5" cy="403.4" rx="4" ry="3" transform="rotate(-20 459.5 403.4)" fill="none" stroke="#c9c9c9" stroke-width="1.1"/>
<path d="M436.6,425.6 L444.4012123822792,416.87322004694187" stroke="#c9c9c9" stroke-width="1.4" fill="none"/>
<path d="M448.4,412.4 L446.7869297406482,419.0059067763929 L442.0154950239102,414.7405333174908 Z" fill="#c9c9c9" stroke="none"/>
<path d="M211,328 L223,336" stroke="#10260c" stroke-width="4.4" stroke-linecap="round" fill="none"/><path d="M211,328 L223,336" stroke="#4fbaf3" stroke-width="2.2" stroke-linecap="round" fill="none"/>
<path d="M190.5,329 L206,320.5" fill="none" stroke="#10260c" stroke-width="9.0" stroke-linecap="round" stroke-linejoin="round"/>
<path d="M190.5,329 L206,320.5" fill="none" stroke="#4fbaf3" stroke-width="6.5" stroke-linecap="round" stroke-linejoin="round"/>
<path d="M130,303.5 L151,292.3 C155,290.7 159,290.7 163,292.5 L185,306" fill="none" stroke="#10260c" stroke-width="9.5" stroke-linecap="round" stroke-linejoin="round"/>
<path d="M130,303.5 L151,292.3 C155,290.7 159,290.7 163,292.5 L185,306" fill="none" stroke="#4fbaf3" stroke-width="7" stroke-linecap="round" stroke-linejoin="round"/>
<path d="M305.5,196 L280,209.5 C275,212.5 272,216 271,222 L271,229 C270.5,233 267,237 262,242 L245,259" fill="none" stroke="#10260c" stroke-width="10.1" stroke-linecap="round" stroke-linejoin="round"/>
<path d="M305.5,196 L280,209.5 C275,212.5 272,216 271,222 L271,229 C270.5,233 267,237 262,242 L245,259" fill="none" stroke="#4fbaf3" stroke-width="7.6" stroke-linecap="round" stroke-linejoin="round"/>
<path d="M340,216 C334,222 328,229 322,235 C318,238.5 314,239 308,238.5 L295,236 C289,235 284,235.5 280,238 L268,249 L251,266" fill="none" stroke="#10260c" stroke-width="10.1" stroke-linecap="round" stroke-linejoin="round"/>
<path d="M340,216 C334,222 328,229 322,235 C318,238.5 314,239 308,238.5 L295,236 C289,235 284,235.5 280,238 L268,249 L251,266" fill="none" stroke="#4fbaf3" stroke-width="7.6" stroke-linecap="round" stroke-linejoin="round"/>
<path d="M271,234 L247,258 L254,265 L276,241 Z" fill="#4fbaf3" stroke="none"/>
<path d="M239.3,259.8 C235,261 232,263 230.9,264 L223.8,276.7 C222,278 220,279 218.2,279.5 L204.1,283.75 C200,285 196,287 192.9,289.4 L184.4,296.4 C182,298 180,299.5 178.8,300.6 C178,304 178.5,308 180.2,311.9 C184,316 188,319 191.1,319.4 C196,323 200,325 203.75,326.4 C208,328.5 212,329.9 216.4,329.9 C221,329.5 225,328 229,326.4 L240.3,320.8 C244,318 246,315 247.4,312.35 C249.5,309 250.5,306 250.9,302.5 C251,298 250.5,295 250.2,291.25 C250.5,287 251,283 251.6,280 C253,276 255,273 256,269.7 L258,266" fill="#4fbaf3" stroke="#10260c" stroke-width="1.4" stroke-linejoin="round"/>
<path d="M274.5,234.5 L262,247 L247,262" fill="none" stroke="#10260c" stroke-width="1" />
<path d="M234,263 C242,264 250,267 257,270" fill="none" stroke="#10260c" stroke-width="1.1" />
<ellipse cx="305.8" cy="196.2" rx="2" ry="4.2" transform="rotate(-30 305.8 196.2)" fill="none" stroke="#10260c" stroke-width="1"/>
<ellipse cx="339.8" cy="216" rx="2.2" ry="4.3" transform="rotate(-50 339.8 216)" fill="none" stroke="#10260c" stroke-width="1"/>
<path d="M238.5,231.5 L249,239.5 C252,242.5 254,246 255,252" stroke="#10260c" stroke-width="4.6" stroke-linecap="round" fill="none"/><path d="M238.5,231.5 L249,239.5 C252,242.5 254,246 255,252" stroke="#4fbaf3" stroke-width="2.2" stroke-linecap="round" fill="none"/>
<circle cx="238.3" cy="231.3" r="1.2" fill="none" stroke="#10260c" stroke-width="0.9"/>
<path d="M180,298 C183,301 184,305 181,309" fill="none" stroke="#10260c" stroke-width="1" />
<path d="M239.7,269 C236,269.5 234.5,271 233.5,273 L229,280.8" fill="none" stroke="#10260c" stroke-width="1" />
<path d="M230,269 L223.6,279.7 C221,282 216,284 208.2,286 C202,288 197,292 193.2,296.2 L187.8,303.75 C186.5,306 186.5,309 186.7,312.3" fill="none" stroke="#10260c" stroke-width="1" />
<path d="M241.9,269 L254.7,273.8 M235.4,277.6 L246.1,284.5 M220.4,289.9 L238.6,300.1 M215,300.1 L230,309.8" fill="none" stroke="#10260c" stroke-width="1" />
<path d="M193.2,303.75 L227.5,320.9 M198.5,302.1 L231.8,319.3 M190,301.1 L221,286.5" fill="none" stroke="#10260c" stroke-width="1" />
<path d="M188.9,315.6 L206,312.3 M192.1,318.8 L208.2,314.5 M214.6,319.8 L210.3,327.4 M218.9,320.9 L214.6,328.4" fill="none" stroke="#10260c" stroke-width="1" />
<path d="M233.3,281.9 L241.9,287.2 M235,283 L230.5,288.5 M239.5,285.7 L235,291.5 M229,288 L232,289 M233.5,291 L237,292" fill="none" stroke="#10260c" stroke-width="1" />
<path d="M202,297.5 L210,301.5 M204,298.5 L202.5,302 M208,300.5 L206.5,304 M212,303 L219,306.5 M216,305 L214.5,308.5 M222,309 L229,312.5 M226.5,311 L225,315" fill="none" stroke="#10260c" stroke-width="1" />
<path d="M232.5,302.5 C233,300 236,299 240,300 C241.5,300.5 242,302 241,303.5 C239,305.5 234,305.5 232.5,302.5 Z" fill="none" stroke="#10260c" stroke-width="1.1"/>
<path d="M182,298 C184,301 184.5,305 182.5,309" fill="none" stroke="#10260c" stroke-width="1" />
<path d="M250.5,332 L243.24974746830586,324.7497474683058" stroke="#111" stroke-width="1.6" fill="none"/>
<path d="M238.3,319.8 L245.79533188057744,322.20416305603425 L240.70416305603428,327.2953318805774 Z" fill="#111" stroke="none"/>
<path d="M1.1,4.2 C1.3,1.4 3.2,0 5.5,0 C8.1,0 9.8,1.7 9.8,3.8 C9.8,5.9 8.2,7.1 5.2,7.1 M5.2,7.1 C8.6,7.1 10.3,8.8 10.3,11 C10.3,13.5 8.2,15 5.5,15 C2.6,15 0.8,13.3 0.7,10.6" transform="translate(44.00,60.90) scale(0.967)" fill="none" stroke="#c4c4c4" stroke-width="1.862" stroke-linecap="butt" stroke-linejoin="round"/>
<path d="M1.1,4.8 C1.1,1.8 3.2,0 5.6,0 C8.2,0 10,1.8 10,4.4 C10,6.6 8.8,8 6.8,9.6 C4,11.8 1.5,13 0.9,15 L10.4,15" transform="translate(98.10,79.00) scale(0.967)" fill="none" stroke="#c4c4c4" stroke-width="1.862" stroke-linecap="butt" stroke-linejoin="round"/>
<path d="M9.9,0.1 L2.6,0.1 L1.5,7.1 C2.6,5.9 4,5.3 5.5,5.3 C8.4,5.3 10.3,7.3 10.3,10.1 C10.3,13 8.2,15 5.5,15 C3,15 1.2,13.6 0.8,11.2" transform="translate(185.40,69.90) scale(0.967)" fill="none" stroke="#c4c4c4" stroke-width="1.862" stroke-linecap="butt" stroke-linejoin="round"/>
<path d="M0.7,0.1 L10.5,0.1 C7,4 5,9 4.3,15" transform="translate(222.10,41.10) scale(0.967)" fill="none" stroke="#c4c4c4" stroke-width="1.862" stroke-linecap="butt" stroke-linejoin="round"/>
<path d="M1.2,11.4 C1.7,13.7 3.3,15 5.4,15 C8.5,15 10.2,12 10.2,7 C10.2,2.4 8.3,0 5.4,0 C2.5,0 0.7,2.2 0.7,5 C0.7,7.8 2.6,9.7 5.2,9.7 C7.7,9.7 9.8,8 10,5.4" transform="translate(252.50,39.50) scale(0.967)" fill="none" stroke="#c4c4c4" stroke-width="1.862" stroke-linecap="butt" stroke-linejoin="round"/>
<path d="M5.5,7.1 C2.9,7.1 1.4,5.7 1.4,3.7 C1.4,1.5 3.1,0 5.5,0 C7.9,0 9.6,1.5 9.6,3.7 C9.6,5.7 8.1,7.1 5.5,7.1 C2.4,7.1 0.7,8.8 0.7,11 C0.7,13.4 2.6,15 5.5,15 C8.4,15 10.3,13.4 10.3,11 C10.3,8.8 8.6,7.1 5.5,7.1 Z" transform="translate(355.80,113.80) scale(0.967)" fill="none" stroke="#c4c4c4" stroke-width="1.862" stroke-linecap="butt" stroke-linejoin="round"/>
<path d="M9.8,3.6 C9.3,1.3 7.7,0 5.6,0 C2.5,0 0.8,3 0.8,8 C0.8,12.6 2.7,15 5.6,15 C8.5,15 10.3,12.8 10.3,10 C10.3,7.2 8.4,5.3 5.8,5.3 C3.3,5.3 1.2,7 1,9.6" transform="translate(177.60,116.20) scale(0.967)" fill="none" stroke="#c4c4c4" stroke-width="1.862" stroke-linecap="butt" stroke-linejoin="round"/>
<path d="M7.9,15 L7.9,0 L0.6,10.6 L10.8,10.6" transform="translate(73.00,184.20) scale(0.967)" fill="none" stroke="#c4c4c4" stroke-width="1.862" stroke-linecap="butt" stroke-linejoin="round"/>
<path d="M1.1,4.2 C1.3,1.4 3.2,0 5.5,0 C8.1,0 9.8,1.7 9.8,3.8 C9.8,5.9 8.2,7.1 5.2,7.1 M5.2,7.1 C8.6,7.1 10.3,8.8 10.3,11 C10.3,13.5 8.2,15 5.5,15 C2.6,15 0.8,13.3 0.7,10.6" transform="translate(37.50,253.90) scale(0.967)" fill="none" stroke="#c4c4c4" stroke-width="1.862" stroke-linecap="butt" stroke-linejoin="round"/>
<path d="M1.7,4.3 C4.4,4.1 6.1,2.7 6.7,0 L6.7,15" transform="translate(134.80,257.30) scale(0.967)" fill="none" stroke="#c4c4c4" stroke-width="1.862" stroke-linecap="butt" stroke-linejoin="round"/>
<path d="M1.7,4.3 C4.4,4.1 6.1,2.7 6.7,0 L6.7,15" transform="translate(190.50,245.40) scale(0.967)" fill="none" stroke="#c4c4c4" stroke-width="1.862" stroke-linecap="butt" stroke-linejoin="round"/>
<path d="M1.1,4.8 C1.1,1.8 3.2,0 5.6,0 C8.2,0 10,1.8 10,4.4 C10,6.6 8.8,8 6.8,9.6 C4,11.8 1.5,13 0.9,15 L10.4,15" transform="translate(202.39,245.40) scale(0.967)" fill="none" stroke="#c4c4c4" stroke-width="1.862" stroke-linecap="butt" stroke-linejoin="round"/>
<path d="M1.7,4.3 C4.4,4.1 6.1,2.7 6.7,0 L6.7,15" transform="translate(357.50,201.90) scale(0.967)" fill="none" stroke="#c4c4c4" stroke-width="1.862" stroke-linecap="butt" stroke-linejoin="round"/>
<path d="M0.7,0.1 L10.5,0.1 C7,4 5,9 4.3,15" transform="translate(369.39,201.90) scale(0.967)" fill="none" stroke="#c4c4c4" stroke-width="1.862" stroke-linecap="butt" stroke-linejoin="round"/>
<path d="M1.7,4.3 C4.4,4.1 6.1,2.7 6.7,0 L6.7,15" transform="translate(505.30,183.30) scale(0.967)" fill="none" stroke="#c4c4c4" stroke-width="1.862" stroke-linecap="butt" stroke-linejoin="round"/>
<path d="M9.9,0.1 L2.6,0.1 L1.5,7.1 C2.6,5.9 4,5.3 5.5,5.3 C8.4,5.3 10.3,7.3 10.3,10.1 C10.3,13 8.2,15 5.5,15 C3,15 1.2,13.6 0.8,11.2" transform="translate(517.19,183.30) scale(0.967)" fill="none" stroke="#c4c4c4" stroke-width="1.862" stroke-linecap="butt" stroke-linejoin="round"/>
<path d="M1.7,4.3 C4.4,4.1 6.1,2.7 6.7,0 L6.7,15" transform="translate(541.50,209.60) scale(0.967)" fill="none" stroke="#c4c4c4" stroke-width="1.862" stroke-linecap="butt" stroke-linejoin="round"/>
<path d="M1.1,4.2 C1.3,1.4 3.2,0 5.5,0 C8.1,0 9.8,1.7 9.8,3.8 C9.8,5.9 8.2,7.1 5.2,7.1 M5.2,7.1 C8.6,7.1 10.3,8.8 10.3,11 C10.3,13.5 8.2,15 5.5,15 C2.6,15 0.8,13.3 0.7,10.6" transform="translate(553.39,209.60) scale(0.967)" fill="none" stroke="#c4c4c4" stroke-width="1.862" stroke-linecap="butt" stroke-linejoin="round"/>
<path d="M1.7,4.3 C4.4,4.1 6.1,2.7 6.7,0 L6.7,15" transform="translate(586.50,211.60) scale(0.967)" fill="none" stroke="#c4c4c4" stroke-width="1.862" stroke-linecap="butt" stroke-linejoin="round"/>
<path d="M9.9,0.1 L2.6,0.1 L1.5,7.1 C2.6,5.9 4,5.3 5.5,5.3 C8.4,5.3 10.3,7.3 10.3,10.1 C10.3,13 8.2,15 5.5,15 C3,15 1.2,13.6 0.8,11.2" transform="translate(598.39,211.60) scale(0.967)" fill="none" stroke="#c4c4c4" stroke-width="1.862" stroke-linecap="butt" stroke-linejoin="round"/>
<path d="M1.7,4.3 C4.4,4.1 6.1,2.7 6.7,0 L6.7,15" transform="translate(318.00,257.90) scale(0.967)" fill="none" stroke="#c4c4c4" stroke-width="1.862" stroke-linecap="butt" stroke-linejoin="round"/>
<path d="M7.9,15 L7.9,0 L0.6,10.6 L10.8,10.6" transform="translate(329.89,257.90) scale(0.967)" fill="none" stroke="#c4c4c4" stroke-width="1.862" stroke-linecap="butt" stroke-linejoin="round"/>
<path d="M1.7,4.3 C4.4,4.1 6.1,2.7 6.7,0 L6.7,15" transform="translate(36.20,321.70) scale(0.967)" fill="none" stroke="#c4c4c4" stroke-width="1.862" stroke-linecap="butt" stroke-linejoin="round"/>
<path d="M1.7,4.3 C4.4,4.1 6.1,2.7 6.7,0 L6.7,15" transform="translate(48.09,321.70) scale(0.967)" fill="none" stroke="#c4c4c4" stroke-width="1.862" stroke-linecap="butt" stroke-linejoin="round"/>
<path d="M1.7,4.3 C4.4,4.1 6.1,2.7 6.7,0 L6.7,15" transform="translate(293.90,364.20) scale(0.967)" fill="none" stroke="#c4c4c4" stroke-width="1.862" stroke-linecap="butt" stroke-linejoin="round"/>
<path d="M1.2,11.4 C1.7,13.7 3.3,15 5.4,15 C8.5,15 10.2,12 10.2,7 C10.2,2.4 8.3,0 5.4,0 C2.5,0 0.7,2.2 0.7,5 C0.7,7.8 2.6,9.7 5.2,9.7 C7.7,9.7 9.8,8 10,5.4" transform="translate(305.79,364.20) scale(0.967)" fill="none" stroke="#c4c4c4" stroke-width="1.862" stroke-linecap="butt" stroke-linejoin="round"/>
<path d="M1.7,4.3 C4.4,4.1 6.1,2.7 6.7,0 L6.7,15" transform="translate(244.00,413.90) scale(0.967)" fill="none" stroke="#c4c4c4" stroke-width="1.862" stroke-linecap="butt" stroke-linejoin="round"/>
<path d="M5.5,7.1 C2.9,7.1 1.4,5.7 1.4,3.7 C1.4,1.5 3.1,0 5.5,0 C7.9,0 9.6,1.5 9.6,3.7 C9.6,5.7 8.1,7.1 5.5,7.1 C2.4,7.1 0.7,8.8 0.7,11 C0.7,13.4 2.6,15 5.5,15 C8.4,15 10.3,13.4 10.3,11 C10.3,8.8 8.6,7.1 5.5,7.1 Z" transform="translate(255.89,413.90) scale(0.967)" fill="none" stroke="#c4c4c4" stroke-width="1.862" stroke-linecap="butt" stroke-linejoin="round"/>
<path d="M1.1,4.8 C1.1,1.8 3.2,0 5.6,0 C8.2,0 10,1.8 10,4.4 C10,6.6 8.8,8 6.8,9.6 C4,11.8 1.5,13 0.9,15 L10.4,15" transform="translate(369.30,396.40) scale(0.967)" fill="none" stroke="#c4c4c4" stroke-width="1.862" stroke-linecap="butt" stroke-linejoin="round"/>
<path d="M5.5,0 C8.6,0 10.3,3 10.3,7.5 C10.3,12 8.6,15 5.5,15 C2.4,15 0.7,12 0.7,7.5 C0.7,3 2.4,0 5.5,0 Z" transform="translate(381.19,396.40) scale(0.967)" fill="none" stroke="#c4c4c4" stroke-width="1.862" stroke-linecap="butt" stroke-linejoin="round"/>
<path d="M1.1,4.8 C1.1,1.8 3.2,0 5.6,0 C8.2,0 10,1.8 10,4.4 C10,6.6 8.8,8 6.8,9.6 C4,11.8 1.5,13 0.9,15 L10.4,15" transform="translate(416.20,430.60) scale(0.967)" fill="none" stroke="#c4c4c4" stroke-width="1.862" stroke-linecap="butt" stroke-linejoin="round"/>
<path d="M1.7,4.3 C4.4,4.1 6.1,2.7 6.7,0 L6.7,15" transform="translate(428.09,430.60) scale(0.967)" fill="none" stroke="#c4c4c4" stroke-width="1.862" stroke-linecap="butt" stroke-linejoin="round"/>
<path d="M1.7,4.3 C4.4,4.1 6.1,2.7 6.7,0 L6.7,15" transform="translate(572.00,359.70) scale(0.967)" fill="none" stroke="#c4c4c4" stroke-width="1.862" stroke-linecap="butt" stroke-linejoin="round"/>
<path d="M9.8,3.6 C9.3,1.3 7.7,0 5.6,0 C2.5,0 0.8,3 0.8,8 C0.8,12.6 2.7,15 5.6,15 C8.5,15 10.3,12.8 10.3,10 C10.3,7.2 8.4,5.3 5.8,5.3 C3.3,5.3 1.2,7 1,9.6" transform="translate(583.89,359.70) scale(0.967)" fill="none" stroke="#c4c4c4" stroke-width="1.862" stroke-linecap="butt" stroke-linejoin="round"/>
<path d="M1.7,4.3 C4.4,4.1 6.1,2.7 6.7,0 L6.7,15" transform="translate(253.00,336.10) scale(0.967)" fill="none" stroke="#111" stroke-width="1.966" stroke-linecap="butt" stroke-linejoin="round"/>
<path d="M5.5,0 C8.6,0 10.3,3 10.3,7.5 C10.3,12 8.6,15 5.5,15 C2.4,15 0.7,12 0.7,7.5 C0.7,3 2.4,0 5.5,0 Z" transform="translate(264.89,336.10) scale(0.967)" fill="none" stroke="#111" stroke-width="1.966" stroke-linecap="butt" stroke-linejoin="round"/>
</svg>
<div id="banner"></div>
<div class="bt" style="left:135.3px;top:461px">Part or sub-assembly is #10 in diagram</div>
<div class="bt" style="left:110.3px;top:480.5px">Diagram may not be specific to your vehicle</div>
</body></html>
